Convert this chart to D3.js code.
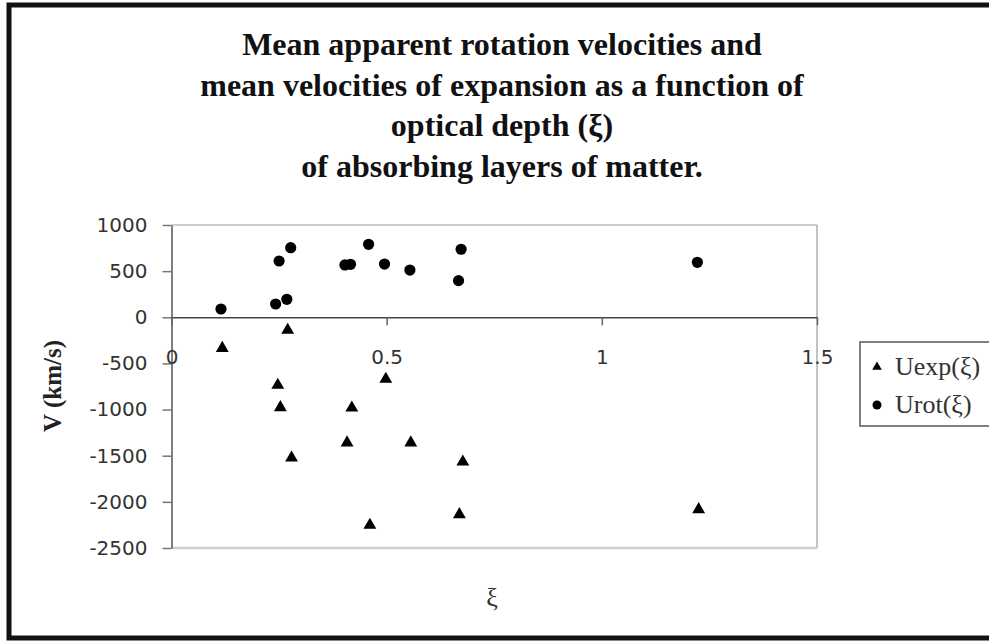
<!DOCTYPE html>
<html>
<head>
<meta charset="utf-8">
<script src="https://cdn.jsdelivr.net/npm/d3@7"></script>
<style>
  body { margin: 0; background: #fff; }
  svg { display: block; }
  .tick text { font-family: "DejaVu Sans", Verdana, sans-serif; font-size: 20px; fill: #333; }
</style>
</head>
<body>
<svg id="chart" width="989" height="641"></svg>
<script>
// Data
const titleLines = [
  'Mean apparent rotation velocities and',
  'mean velocities of expansion as a function of',
  'optical depth (\u03be)',
  'of absorbing layers of matter.'
];
const xiExp = [0.118, 0.247, 0.253, 0.270, 0.279, 0.408, 0.419, 0.461, 0.498, 0.556, 0.669, 0.677, 1.225];
const uExp  = [-315, -715, -957, -119, -1503, -1340, -961, -2232, -650, -1340, -2117, -1546, -2063];
const xiRot = [0.115, 0.242, 0.250, 0.268, 0.277, 0.403, 0.416, 0.458, 0.495, 0.554, 0.667, 0.673, 1.222];
const uRot  = [90, 144, 610, 195, 754, 567, 574, 791, 577, 512, 397, 737, 596];
const xTicks = [0, 0.5, 1, 1.5];
const yTicks = [1000, 500, 0, -500, -1000, -1500, -2000, -2500];
const seriesNames = ['Uexp(\u03be)', 'Urot(\u03be)'];

const svg = d3.select('#chart');
const plot = {left: 171.5, right: 817, top: 225, bottom: 548};

const x = d3.scaleLinear().domain([0, 1.5]).range([plot.left, plot.right]);
const y = d3.scaleLinear().domain([-2500, 1000]).range([plot.bottom, plot.top]);

// outer frame (right side runs off the picture)
svg.append('rect')
  .attr('x', 9).attr('y', 5)
  .attr('width', 1000).attr('height', 633)
  .attr('fill', 'none').attr('stroke', '#111').attr('stroke-width', 5);

// title
svg.append('text')
  .attr('text-anchor', 'middle')
  .style('font-family', '"Liberation Serif", "Times New Roman", serif')
  .style('font-weight', 'bold').style('font-size', '32px').attr('fill', '#111')
  .selectAll('tspan')
  .data(titleLines)
  .enter().append('tspan')
  .attr('x', 502)
  .attr('y', (d, i) => 55 + i * 40.7)
  .text(d => d);

// plot frame: top and right light grey, bottom pale
svg.append('line').attr('x1', plot.left).attr('x2', plot.right).attr('y1', plot.top).attr('y2', plot.top)
  .attr('stroke', '#9a9a9a').attr('stroke-width', 1.2);
svg.append('line').attr('x1', plot.right).attr('x2', plot.right).attr('y1', plot.top).attr('y2', plot.bottom)
  .attr('stroke', '#9a9a9a').attr('stroke-width', 1.2);
svg.append('line').attr('x1', plot.left).attr('x2', plot.right).attr('y1', plot.bottom).attr('y2', plot.bottom)
  .attr('stroke', '#cfcfcf').attr('stroke-width', 2.5);

// y axis
const yAxis = svg.append('g')
  .attr('transform', `translate(${plot.left},0)`)
  .call(d3.axisLeft(y).tickValues(yTicks).tickSize(9).tickSizeOuter(0).tickPadding(15).tickFormat(d => String(d)));
yAxis.select('.domain').attr('stroke', '#555').attr('stroke-width', 1.5);
yAxis.selectAll('.tick line').attr('stroke', '#777').attr('stroke-width', 1.5);

// x axis through zero
const xAxis = svg.append('g')
  .attr('transform', `translate(0,${y(0)})`)
  .call(d3.axisBottom(x).tickValues(xTicks).tickSize(8).tickSizeOuter(0).tickPadding(25).tickFormat(d => String(d)));
xAxis.select('.domain').attr('stroke', '#444').attr('stroke-width', 1.5);
xAxis.selectAll('.tick line').attr('stroke', '#666').attr('stroke-width', 1.5);

// axis titles
svg.append('text')
  .attr('transform', 'translate(61,386) rotate(-90)')
  .attr('text-anchor', 'middle')
  .style('font-family', '"Liberation Serif", "Times New Roman", serif')
  .style('font-weight', 'bold').style('font-size', '25px').attr('fill', '#222')
  .text('V (km/s)');
svg.append('text')
  .attr('x', 492).attr('y', 606)
  .attr('text-anchor', 'middle')
  .style('font-family', '"Liberation Serif", "Times New Roman", serif')
  .style('font-size', '26px').attr('fill', '#333')
  .text('\u03be');

// markers
const triSize = 72;
const triH = Math.sqrt(triSize * 4 / Math.sqrt(3)) * Math.sqrt(3) / 2;
const tri = d3.symbol().type(d3.symbolTriangle).size(triSize);

svg.append('g').selectAll('path')
  .data(d3.zip(xiExp, uExp))
  .enter().append('path')
  .attr('d', tri)
  .attr('transform', d => `translate(${x(d[0])},${y(d[1]) + triH / 6})`)
  .attr('fill', '#000');

svg.append('g').selectAll('circle')
  .data(d3.zip(xiRot, uRot))
  .enter().append('circle')
  .attr('cx', d => x(d[0]))
  .attr('cy', d => y(d[1]))
  .attr('r', 5.6)
  .attr('fill', '#000');

// legend
const legend = svg.append('g');
legend.append('rect')
  .attr('x', 860).attr('y', 342).attr('width', 160).attr('height', 84)
  .attr('fill', '#fff').attr('stroke', '#555').attr('stroke-width', 1.5);
const legItems = legend.selectAll('g.item')
  .data(seriesNames)
  .enter().append('g').attr('class', 'item')
  .attr('transform', (d, i) => `translate(0,${i * 38})`);
legItems.append('text')
  .attr('x', 895).attr('y', 375)
  .style('font-family', '"Liberation Serif", "Times New Roman", serif')
  .style('font-size', '26px').attr('fill', '#333')
  .text(d => d);
legend.append('path')
  .attr('d', d3.symbol().type(d3.symbolTriangle).size(40))
  .attr('transform', 'translate(877,367)').attr('fill', '#000');
legend.append('circle')
  .attr('cx', 877).attr('cy', 405).attr('r', 4.5).attr('fill', '#000');
</script>
</body>
</html>
